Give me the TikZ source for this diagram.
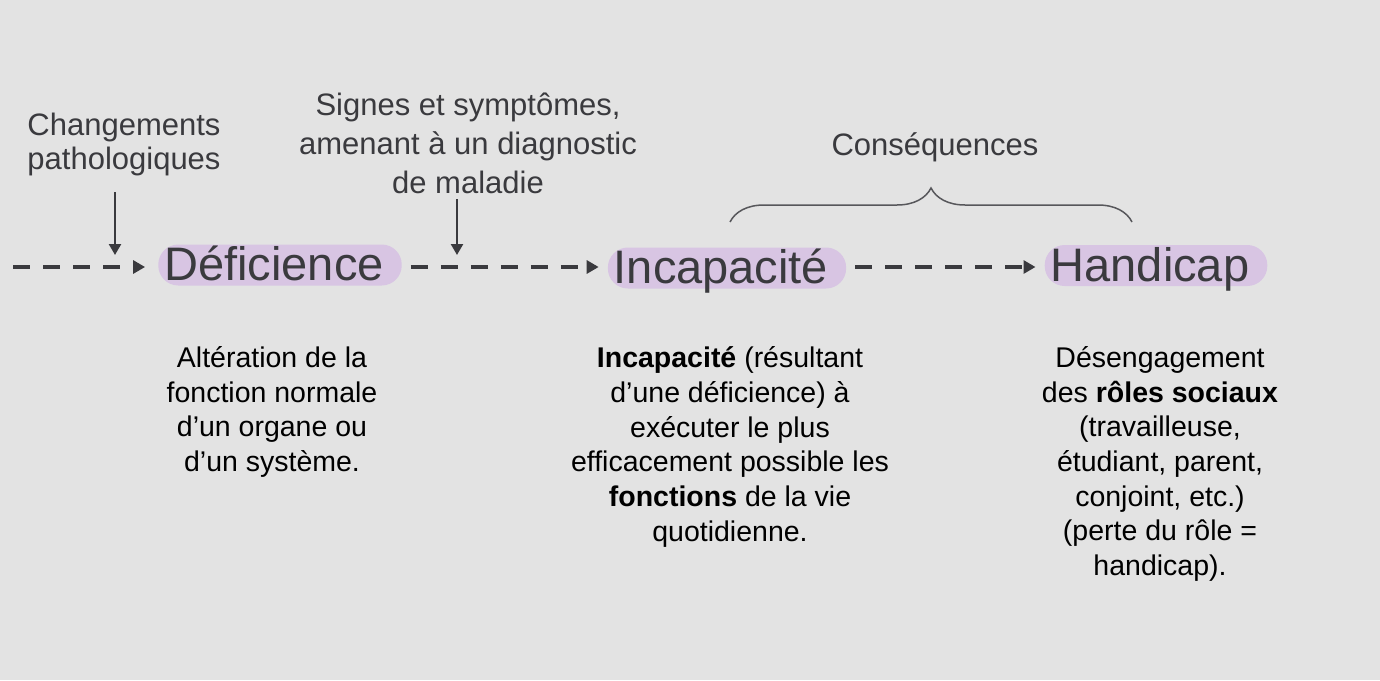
\documentclass[tikz,border=0pt]{standalone}
\usepackage{fontspec}
\setmainfont{Liberation Sans}
\usepackage{xcolor}
\usetikzlibrary{arrows.meta, decorations.pathreplacing}

\definecolor{fond}{HTML}{E3E3E3}
\definecolor{lilas}{HTML}{D8C5E3}
\definecolor{encre}{HTML}{3A3A3E}

\begin{document}
\begin{tikzpicture}[x=1pt, y=1pt,
    mot/.style={fill=lilas, rounded corners=20pt, inner xsep=6pt, inner ysep=2pt,
        text height=34pt, text depth=3pt, text=encre, font=\fontsize{47}{50}\selectfont,
        execute at end node={\hspace{12pt}}},
    titre/.style={align=center, text=encre, inner sep=0pt},
    texte/.style={align=center, inner sep=0pt, font=\fontsize{28.5}{34.7}\selectfont},
    pointille/.style={-{Triangle[length=12pt, width=13pt]}, encre, line width=3.5pt,
        dash pattern=on 17pt off 13pt, shorten <=9pt, shorten >=9pt},
    fleche/.style={-{Triangle[length=11pt, width=12pt]}, encre, line width=2.4pt}]

    \fill[fond] (0,0) rectangle (1380,-680);

    % la chaine principale
    \node[mot] (D) at (280,-265) {Déficience};
    \node[mot] (I) at (727,-268) {Incapacité};
    \node[mot] (H) at (1156,-265.5) {Handicap};
    \coordinate (depart) at (4,-267);

    \draw[pointille, shorten >=13pt] (depart) -- (D.west |- depart);
    \draw[pointille] (D.east |- depart) -- (I.west |- depart);
    \draw[pointille] (I.east |- depart) -- (H.west |- depart);

    % les causes au-dessus
    \node[titre, font=\fontsize{31}{34}\selectfont] (C) at (124,-144) {Changements\\pathologiques};
    \node[titre, font=\fontsize{31}{39}\selectfont] (S) at (468,-143) {Signes et symptômes,\\amenant à un diagnostic\\de maladie};
    \coordinate (c1) at (115,-192);
    \coordinate (c2) at (115,-255);
    \coordinate (s1) at (457,-199);
    \coordinate (s2) at (457,-255);
    \draw[fleche] (c1) -- (c2);
    \draw[fleche] (s1) -- (s2);

    % les consequences
    \node[titre, font=\fontsize{31}{38}\selectfont] (Q) at (935,-147) {Conséquences};
    \coordinate (b1) at (730,-222);
    \coordinate (b2) at (1132,-222);
    \draw[encre!85, line width=1.5pt, decorate, decoration={brace, amplitude=34pt}] (b1) -- (b2);

    % les definitions
    \node[texte] (tD) at (272,-412) {Altération de la\\fonction normale\\d’un organe ou\\d’un système.};
    \node[texte] (tI) at (730,-447) {\textbf{Incapacité} (résultant\\d’une déficience) à\\exécuter le plus\\efficacement possible les\\\textbf{fonctions} de la vie\\quotidienne.};
    \node[texte] (tH) at (1160,-464) {Désengagement\\des \textbf{rôles sociaux}\\(travailleuse,\\étudiant, parent,\\conjoint, etc.)\\(perte du rôle =\\handicap).};
\end{tikzpicture}
\end{document}
